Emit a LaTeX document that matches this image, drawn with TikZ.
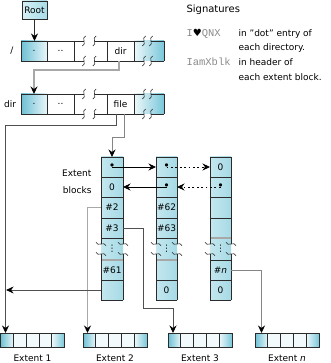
\documentclass[tikz,border=0pt]{standalone}
\usepackage{fontspec}
\setmainfont{DejaVu Sans}
\newfontfamily\monof{Liberation Mono}
\newfontfamily\symf{DejaVu Sans}
\usetikzlibrary{arrows.meta,calc}
\definecolor{edgec}{HTML}{2B2B2B}
\definecolor{dcd}{HTML}{6DC0D4}
\definecolor{dcl}{HTML}{E8F6F9}
\definecolor{dcl2}{HTML}{EEF8FA}
\definecolor{dcd2}{HTML}{79C7DA}
\definecolor{ccl}{HTML}{C4E7EF}
\definecolor{ccr}{HTML}{A6DAE6}
\definecolor{rootl}{HTML}{D6EFF4}
\definecolor{rootr}{HTML}{A8DCE8}
\definecolor{extmid}{HTML}{F2FAFC}
\definecolor{lg}{HTML}{A8A8A8}
\definecolor{mg}{HTML}{858585}
\definecolor{dg}{HTML}{505050}
\definecolor{mono}{HTML}{8A8A8A}

\newcommand\dirblk[3]{%
  \node[cell, minimum width=26pt, left color=dcd, right color=dcl] (#2a) at (34,#1+10) {.};
  \node[cell, minimum width=27pt] (#2b) at (60.5,#1+10) {..};
  \node[cell, minimum width=27pt] (#2d) at (120.5,#1+10) {#3};
  \node[cell, minimum width=30pt, left color=dcl2, right color=dcd2] (#2e) at (149,#1+10) {};
  \draw[edge] (21,#1) -- (84,#1) (94.5,#1) -- (144,#1) (151,#1) -- (164,#1);
  \draw[edge] (21,#1+20) -- (84,#1+20) (94.5,#1+20) -- (144,#1+20) (151,#1+20) -- (164,#1+20);
  \foreach \xx in {21,47,74,107,134,164} \draw[edge] (\xx,#1) -- (\xx,#1+20);
  \foreach \xx in {84,94.5,144,151} {\pic at (\xx,#1) {vw}; \pic at (\xx,#1+20) {vw};}
}
\newcommand\colframe[3]{%
  \fill[left color=ccl, middle color=white, right color=ccr] (#1,157) rectangle (#2,300);
  \foreach \yy in {157,177,197,218,238,260,280,300} \draw[edge] (#1,\yy) -- (#2,\yy);
  \draw[lg, line width=1.3pt] (#1+0.5,#3) -- (#2-0.5,#3);
  \draw[edge] (#1,157) -- (#1,244) (#1,254) -- (#1,300) (#2,157) -- (#2,244) (#2,254) -- (#2,300);
  \foreach \xx in {#1,#2} \foreach \yy in {244,254} \pic[rotate=90] at (\xx,\yy) {vw};
}
\newcommand\rc[4]{\node[cell, minimum width=21pt] (#1) at (#2,#3) {#4};}
\newcommand\bdot{{\fontsize{11}{11}\selectfont•}}
\newcommand\extblk[2]{%
  \node[inner sep=0pt, outer sep=0pt, minimum width=64pt, minimum height=14pt] (#2) at (#1+32,340) {};
  \fill[left color=dcd, right color=dcl] (#1,333) rectangle (#1+12.8,347);
  \fill[extmid] (#1+12.8,333) rectangle (#1+51.2,347);
  \fill[left color=dcl2, right color=dcd2] (#1+51.2,333) rectangle (#1+64,347);
  \draw[edge] (#1,333) rectangle (#1+64,347);
  \foreach \k in {1,2,3,4} \draw[edge] (#1+12.8*\k,333) -- (#1+12.8*\k,347);
}

\begin{document}
\begin{tikzpicture}[x=1pt,y=-1pt,
  font=\fontsize{9}{11}\selectfont,
  edge/.style={draw=edgec, line width=0.7pt},
  cell/.style={inner sep=0pt, outer sep=0pt, minimum height=20pt},
  conn/.style={line width=0.8pt},
  arr/.style={-{Stealth[length=7.5pt,width=7pt,inset=2.5pt,color=black]}},
  dotl/.style={dash pattern=on 1.8pt off 2.6pt},
  vw/.pic={\draw[draw=edgec, line width=0.6pt] (1.6,-5) .. controls (-3.2,-3.2) and (3.2,3.2) .. (-1.6,5);}
]
\useasboundingbox (0,0) rectangle (330,363);

% Root
\node[draw=edgec, line width=0.7pt, left color=rootl, right color=rootr,
      minimum width=25pt, minimum height=18pt, inner sep=0pt] (root) at (34.5,10) {Root};

% directory blocks
\dirblk{41}{d1}{dir}
\dirblk{94}{d2}{file}
\node (lslash) at (12,51) {/};
\node (ldir) at (10,104) {dir};

% extent block columns
\colframe{101}{123}{260}
\colframe{156}{177}{260}
\colframe{210}{231}{238}

\node[cell, minimum width=22pt] (k1r1) at (112,167) {\bdot};
\node[cell, minimum width=22pt] (k1r2) at (112,187) {0};
\node[cell, minimum width=22pt] (k1r3) at (112,207.5) {\#2};
\node[cell, minimum width=22pt] (k1r4) at (112,228) {\#3};
\node[cell, minimum width=22pt] (k1r5) at (112,249) {⋮};
\node[cell, minimum width=22pt] (k1r6) at (112,270) {\#61};
\node[cell, minimum width=22pt] (k1r7) at (112,290) {};

\rc{k2r1}{166.5}{167}{\bdot}
\rc{k2r2}{166.5}{187}{\bdot}
\rc{k2r3}{166.5}{207.5}{\#62}
\rc{k2r4}{166.5}{228}{\#63}
\rc{k2r5}{166.5}{249}{⋮}
\rc{k2r6}{166.5}{270}{}
\rc{k2r7}{166.5}{290}{0}

\rc{k3r1}{220.5}{167}{0}
\rc{k3r2}{220.5}{187}{\bdot}
\rc{k3r3}{220.5}{207.5}{}
\rc{k3r4}{220.5}{228}{}
\rc{k3r5}{220.5}{249}{⋮}
\rc{k3r6}{220.5}{270}{\#\textit{n}}
\rc{k3r7}{220.5}{290}{0}

\node[align=right, anchor=east, font=\fontsize{9}{17}\selectfont] (eblab) at (95,182) {Extent\\blocks};

% extents
\extblk{0.5}{e1}
\extblk{83}{e2}
\extblk{168}{e3}
\extblk{255}{e4}
\node (l1) at ($(e1.south)+(0,11)$) {Extent 1};
\node (l2) at ($(e2.south)+(0,11)$) {Extent 2};
\node (l3) at ($(e3.south)+(0,11)$) {Extent 3};
\node (l4) at ($(e4.south)+(0,11)$) {Extent \textit{n}};
\coordinate (t1) at ([xshift=5]e1.north west);
\coordinate (t2) at ([xshift=4.5]e2.north west);
\coordinate (t3) at ([xshift=5]e3.north west);
\coordinate (t4) at ([xshift=6.5]e4.north west);

% connectors
\draw[conn, edgec, arr] (root.south) -- (root.south |- d1a.north);
\draw[conn, lg, line width=1.2pt, arr] ([xshift=-1.5]d1d.south) -- ++(0,9) -| (d2a.north);
\draw[conn, dg, arr] ([xshift=-4.5]d2d.south) -- ++(0,11) -| (t1);
\draw[conn, mg, arr] ([xshift=3.5]d2d.south) -- ++(0,23) -| (k1r1.north);
\draw[conn, black, arr] (k1r1.center) -- (k2r1.west);
\draw[conn, black, dotl, arr] (k2r1.center) -- (k3r1.west);
\draw[conn, black, arr] (k2r2.center) -- (k1r2.east);
\draw[conn, black, dotl, arr] (k3r2.center) -- (k2r2.east);
\draw[conn, lg, line width=1.2pt, arr] (k1r3.west) -| (t2);
\draw[conn, dg, arr] (k1r4.east) -- ++(20,0) -- ++(0,80) -| (t3);
\draw[conn, dg, arr] (k1r7.west) -- ([xshift=0.6]k1r7.west -| t1);
\draw[conn, mg, arr] (k3r6.east) -| (t4);

% signatures legend
\node[anchor=west, font=\fontsize{10}{12}\selectfont] (sig) at (183,10) {Signatures};
\node[anchor=west, font=\monof\fontsize{10.5}{12}\selectfont, text=mono] (s1) at (183,34) {I{\symf\fontsize{10}{11}\selectfont\color{black}♥}QNX};
\node[anchor=west] (s1t) at (235,34) {in "dot" entry of};
\node[anchor=west] (s1u) at (235,48) {each directory.};
\node[anchor=west, font=\monof\fontsize{10.5}{12}\selectfont, text=mono] (s2) at (183,62) {IamXblk};
\node[anchor=west] (s2t) at (235,62) {in header of};
\node[anchor=west] (s2u) at (235,77) {each extent block.};
\end{tikzpicture}
\end{document}
